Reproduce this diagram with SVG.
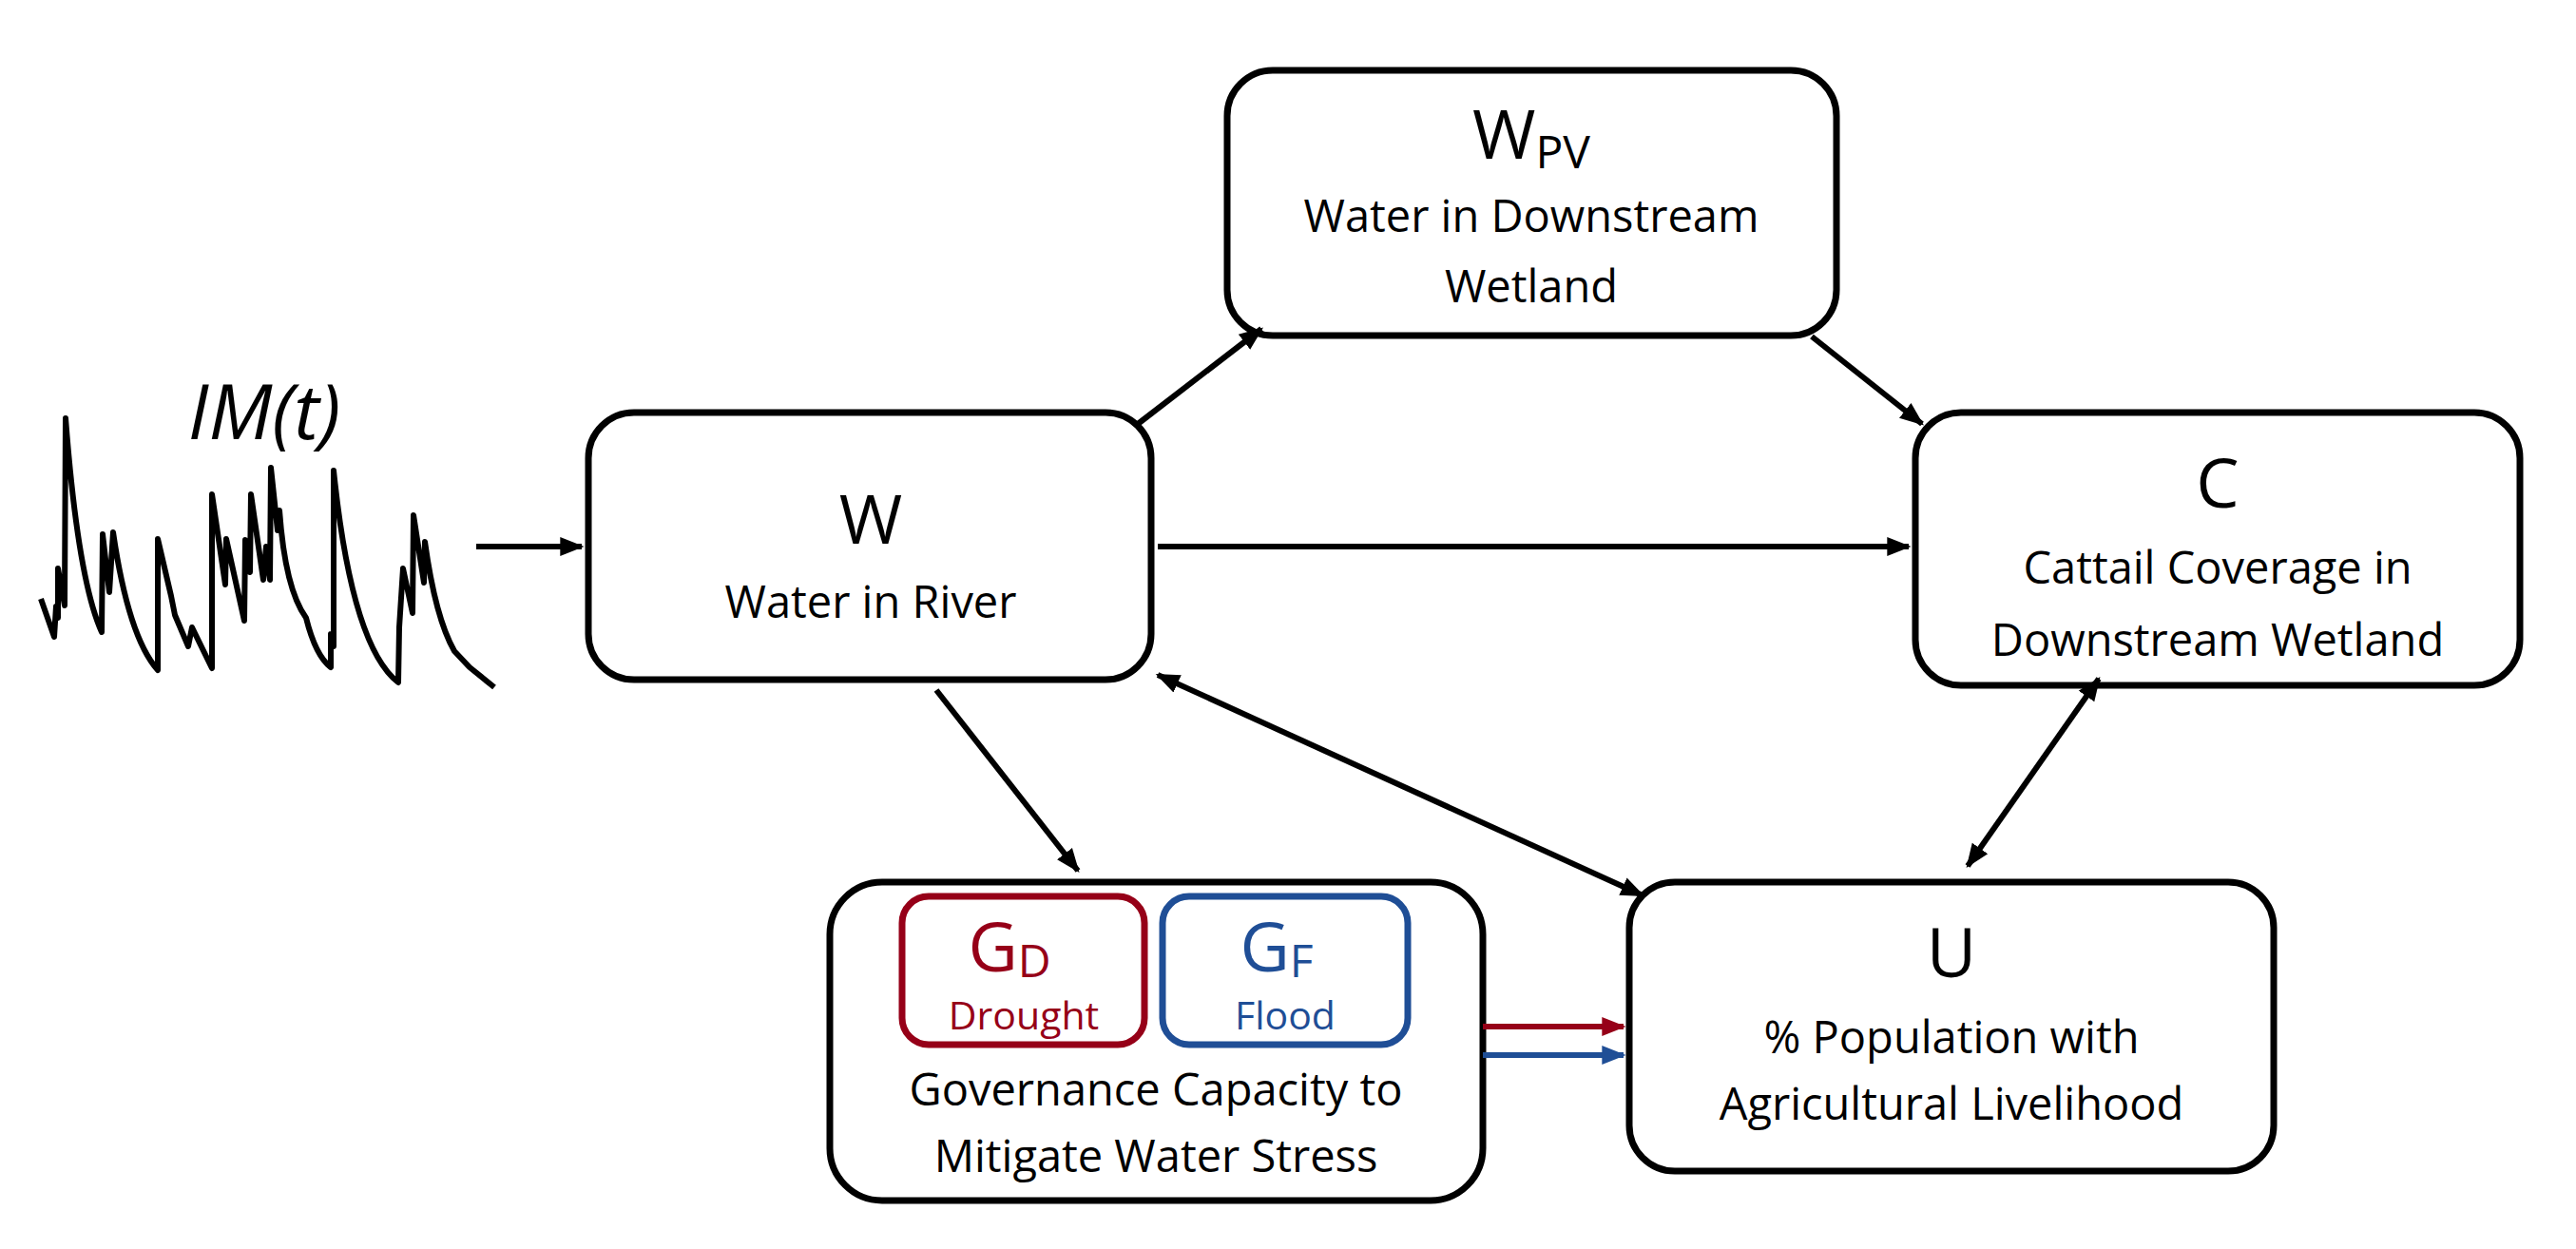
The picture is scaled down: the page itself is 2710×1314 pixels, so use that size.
<svg xmlns="http://www.w3.org/2000/svg" width="2710" height="1314" viewBox="0 0 2710 1314">
<defs>
<marker id="ah" viewBox="0 0 10 10" refX="9" refY="5" markerWidth="4.2" markerHeight="4.2" markerUnits="strokeWidth" orient="auto-start-reverse"><path d="M0,1 L10,5 L0,9 z" fill="#000"/></marker>
<marker id="ahr" viewBox="0 0 10 10" refX="9" refY="5" markerWidth="4.2" markerHeight="4.2" markerUnits="strokeWidth" orient="auto"><path d="M0,1 L10,5 L0,9 z" fill="#960018"/></marker>
<marker id="ahb" viewBox="0 0 10 10" refX="9" refY="5" markerWidth="4.2" markerHeight="4.2" markerUnits="strokeWidth" orient="auto"><path d="M0,1 L10,5 L0,9 z" fill="#1f4e96"/></marker>
</defs>
<style>
.box{fill:#fff;stroke:#000;stroke-width:7}
text{font-family:"Open Sans","Noto Sans",sans-serif;text-anchor:middle;fill:#000}
.t{font-size:47px}
.big{font-size:72px}
.c{stroke:#000;stroke-width:6;fill:none;marker-end:url(#ah)}
</style>
<rect width="2710" height="1314" fill="#fff"/>
<g id="series">
<path d="M43,630 L57,670 L59,638 L61,650 L61,598 L68,637 L69,440 Q82,610 107,665 L108,562 L115,623 L119,560 Q135,670 166,705 L166,567 L180,627 L184,647 L198,680 L202,660 L223,703 L223,520 L237,615 L238,567 L257,653 L258,568 L263,602 L264,520 L277,610 L280,575 L284,610 L285,492 L292,558 L294,537 Q300,620 322,650 Q332,690 348,702 L348,667 L351,680 L351,495 Q370,680 419,718 L420,660 L424,598 L434,645 L435,542 L446,613 L447,570 Q458,650 478,685 L494,702 L520,723" fill="none" stroke="#000" stroke-width="6" stroke-linejoin="round"/>
<text x="278" y="462" style="font-size:80px;font-style:italic">IM(t)</text>
</g>
<g id="W"><rect class="box" x="619" y="434" width="592" height="281" rx="48"/>
<text class="big" x="916" y="572">W</text><text class="t" x="916" y="650">Water in River</text></g>
<g id="WPV"><rect class="box" x="1291" y="74" width="641" height="279" rx="48"/>
<text class="big" x="1611" y="167">W<tspan style="font-size:48px" dy="10">PV</tspan></text>
<text class="t" x="1611" y="244">Water in Downstream</text><text class="t" x="1611" y="318">Wetland</text></g>
<g id="C"><rect class="box" x="2015" y="434" width="636" height="287" rx="48"/>
<text class="big" x="2333" y="534">C</text>
<text class="t" x="2333" y="614">Cattail Coverage in</text><text class="t" x="2333" y="690">Downstream Wetland</text></g>
<g id="U"><rect class="box" x="1714" y="928" width="678" height="304" rx="48"/>
<text class="big" x="2053" y="1028">U</text>
<text class="t" x="2053" y="1108">% Population with</text><text class="t" x="2053" y="1178">Agricultural Livelihood</text></g>
<g id="G"><rect class="box" x="873" y="928" width="687" height="335" rx="55"/>
<rect x="949" y="943" width="255" height="156" rx="28" fill="#fff" stroke="#960018" stroke-width="7"/>
<rect x="1223" y="943" width="258" height="156" rx="28" fill="#fff" stroke="#1f4e96" stroke-width="7"/>
<text x="1062" y="1022" style="font-size:72px;fill:#960018">G<tspan style="font-size:48px" dy="6">D</tspan></text>
<text x="1077" y="1083" style="font-size:41px;fill:#960018">Drought</text>
<text x="1343" y="1022" style="font-size:72px;fill:#1f4e96">G<tspan style="font-size:48px" dy="6">F</tspan></text>
<text x="1352" y="1083" style="font-size:41px;fill:#1f4e96">Flood</text>
<text class="t" x="1216" y="1163">Governance Capacity to</text>
<text class="t" x="1216" y="1233">Mitigate Water Stress</text></g>
<g id="connectors">
<line class="c" x1="501" y1="575" x2="612" y2="575"/>
<line class="c" x1="1218" y1="575" x2="2008" y2="575"/>
<line class="c" x1="1197" y1="446" x2="1327" y2="346"/>
<line class="c" x1="1906" y1="354" x2="2022" y2="446"/>
<line class="c" x1="985" y1="726" x2="1134" y2="916"/>
<line class="c" x1="1218" y1="710" x2="1728" y2="942" style="marker-start:url(#ah)"/>
<line class="c" x1="2208" y1="714" x2="2070" y2="911" style="marker-start:url(#ah)"/>
<line x1="1560" y1="1080" x2="1708" y2="1080" stroke="#960018" stroke-width="6" marker-end="url(#ahr)"/>
<line x1="1560" y1="1110" x2="1708" y2="1110" stroke="#1f4e96" stroke-width="6" marker-end="url(#ahb)"/>
</g>
</svg>
